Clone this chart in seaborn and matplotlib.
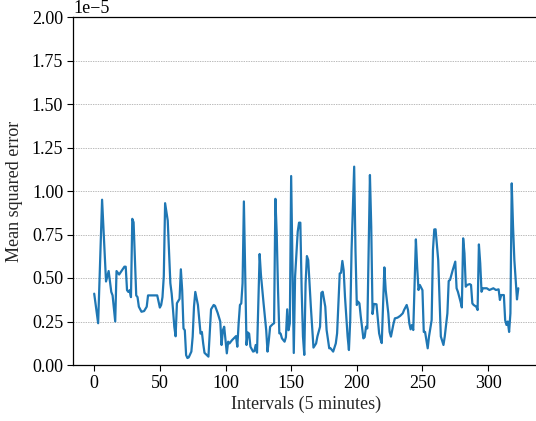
import matplotlib
matplotlib.use("Agg")
import matplotlib.pyplot as plt
import seaborn as sns
import pandas as pd

# Interval index (5-minute intervals) and mean squared error (in units of 1e-5)
intervals = [0, 3, 6, 9, 11, 13, 14, 16, 17, 19, 23, 24, 25, 26, 27, 28, 29, 30, 32, 33,
             34, 36, 38, 40, 41, 48, 50, 51, 52, 53, 54, 56, 58, 59, 60, 61, 62, 63, 65, 66,
             67, 68, 69, 70, 71, 72, 74, 75, 76, 77, 79, 80, 81, 82, 83, 84, 87, 89, 91, 92,
             94, 96, 97, 98, 99, 101, 102, 103, 105, 108, 109, 110, 111, 112, 113, 114, 116, 117, 118, 119,
             121, 122, 123, 124, 126, 127, 129, 131, 132, 133, 134, 136, 137, 138, 139, 140, 141, 142, 143, 145,
             146, 147, 148, 149, 150, 152, 153, 155, 156, 157, 158, 159, 160, 161, 162, 163, 164, 165, 167, 169,
             170, 172, 173, 174, 176, 177, 179, 180, 182, 184, 185, 187, 188, 189, 190, 191, 193, 194, 195, 196,
             198, 199, 200, 201, 202, 203, 205, 206, 207, 208, 210, 211, 212, 213, 215, 217, 218, 219, 221, 222,
             224, 225, 226, 228, 229, 231, 233, 235, 236, 238, 239, 240, 241, 242, 243, 245, 246, 247, 248, 250,
             251, 252, 254, 255, 257, 258, 259, 260, 262, 263, 264, 266, 267, 269, 270, 271, 273, 275, 276, 277,
             279, 280, 281, 282, 283, 284, 286, 287, 288, 289, 291, 292, 293, 294, 295, 296, 299, 301, 304, 306,
             308, 309, 310, 312, 313, 314, 315, 316, 317, 318, 319, 320, 322, 323]

mse_e5 = [0.41, 0.24, 0.95, 0.48, 0.54, 0.42, 0.40, 0.25, 0.54, 0.52, 0.565, 0.565, 0.43, 0.42, 0.43, 0.39, 0.84, 0.82, 0.40, 0.39,
          0.335, 0.306, 0.31, 0.335, 0.40, 0.40, 0.33, 0.345, 0.39, 0.51, 0.93, 0.83, 0.47, 0.41, 0.32, 0.22, 0.165, 0.355, 0.38, 0.55,
          0.43, 0.21, 0.20, 0.057, 0.04, 0.044, 0.077, 0.163, 0.335, 0.42, 0.345, 0.26, 0.18, 0.19, 0.124, 0.07, 0.048, 0.32, 0.345, 0.34,
          0.30, 0.25, 0.115, 0.20, 0.22, 0.067, 0.134, 0.124, 0.143, 0.166, 0.105, 0.24, 0.345, 0.354, 0.47, 0.94, 0.115, 0.187, 0.18, 0.105,
          0.077, 0.08, 0.115, 0.071, 0.638, 0.517, 0.354, 0.20, 0.077, 0.143, 0.22, 0.235, 0.24, 0.955, 0.757, 0.431, 0.182, 0.18, 0.153, 0.134,
          0.16, 0.32, 0.20, 0.24, 1.086, 0.069, 0.508, 0.766, 0.818, 0.818, 0.431, 0.164, 0.058, 0.469, 0.626, 0.603, 0.469, 0.335, 0.10, 0.124,
          0.164, 0.22, 0.415, 0.421, 0.335, 0.201, 0.096, 0.096, 0.077, 0.124, 0.182, 0.526, 0.53, 0.598, 0.544, 0.392, 0.164, 0.086, 0.258, 0.658,
          1.14, 0.658, 0.345, 0.364, 0.354, 0.28, 0.153, 0.16, 0.22, 0.21, 1.092, 0.795, 0.293, 0.351, 0.349, 0.182, 0.15, 0.126, 0.561, 0.431,
          0.297, 0.19, 0.163, 0.239, 0.268, 0.272, 0.282, 0.297, 0.316, 0.345, 0.316, 0.239, 0.205, 0.23, 0.201, 0.722, 0.56, 0.431, 0.46, 0.43,
          0.19, 0.19, 0.096, 0.164, 0.258, 0.66, 0.779, 0.78, 0.603, 0.374, 0.164, 0.115, 0.164, 0.297, 0.483, 0.489, 0.544, 0.594, 0.441, 0.421,
          0.364, 0.331, 0.728, 0.642, 0.45, 0.46, 0.465, 0.46, 0.354, 0.345, 0.335, 0.316, 0.693, 0.585, 0.421, 0.441, 0.441, 0.431, 0.441, 0.431,
          0.435, 0.374, 0.402, 0.402, 0.258, 0.23, 0.25, 0.19, 0.297, 1.044, 0.795, 0.603, 0.377, 0.441]

x_label = "Intervals (5 minutes)"
y_label = "Mean squared error"
x_ticks = [0, 50, 100, 150, 200, 250, 300]

df = pd.DataFrame({"interval": intervals, "mse": [v * 1e-5 for v in mse_e5]})

sns.set_theme(style="ticks")
plt.rcParams["font.family"] = ["Liberation Serif", "DejaVu Serif"]
plt.rcParams["axes.unicode_minus"] = True

FS = 13

fig = plt.figure(figsize=(5.36, 4.21), dpi=100)
ax = fig.add_axes([73 / 536, 56 / 421, (539.5 - 73) / 536, 348 / 421])

sns.lineplot(data=df, x="interval", y="mse", ax=ax, color="#1f77b4", linewidth=1.6)

ax.set_ylim(0, 2e-5)
ax.set_xlim(-16.15, 339.15)
ax.set_xticks(x_ticks)
ax.set_xlabel(x_label, fontsize=FS, labelpad=3)
ax.set_ylabel(y_label, fontsize=FS, labelpad=6)
ax.tick_params(axis="both", labelsize=FS, colors="black", length=4, width=0.8, direction="out", pad=3)
ax.yaxis.get_offset_text().set_fontsize(FS)
ax.grid(axis="y", linestyle=(0, (2, 1.5)), linewidth=0.5, color="#a0a0a0")
ax.grid(axis="x", visible=False)
for s in ["left", "bottom", "top", "right"]:
    ax.spines[s].set_visible(True)
    ax.spines[s].set_color("black")
    ax.spines[s].set_linewidth(0.9)

fig.savefig("out.png", dpi=100)
